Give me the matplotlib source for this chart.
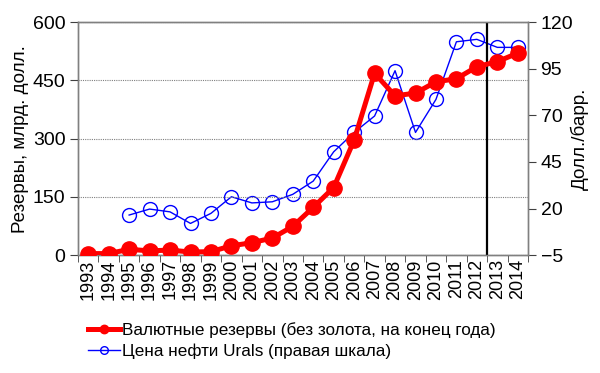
import matplotlib
matplotlib.use("Agg")
import matplotlib.pyplot as plt
import numpy as np

plt.rcParams['font.family'] = ['Liberation Sans', 'DejaVu Sans']

years = [str(y) for y in range(1993, 2015)]
reserves = [4, 4, 15, 11, 13, 8, 9, 24, 32, 44, 74, 123, 174, 296, 468, 410, 417, 446, 454, 485, 498, 520]
oil_years = [str(y) for y in range(1995, 2015)]
oil = [16.5, 19.7, 18.2, 12.0, 17.4, 26.3, 23.0, 23.6, 27.6, 34.7, 50.4, 60.8, 69.6, 93.9, 60.8, 78.5, 109.4, 110.7, 106.4, 106.4]

fig = plt.figure(figsize=(6.0, 3.73), dpi=100)
ax = fig.add_axes([0.13, 0.316, 0.75, 0.625])
ax2 = ax.twinx()

x = np.arange(len(years))
xo = np.array([years.index(y) for y in oil_years])

ax.set_zorder(ax2.get_zorder() + 1)
ax.patch.set_visible(False)

l1, = ax.plot(x, reserves, color='#ff0000', lw=3.6, marker='o', ms=11,
              label='Валютные резервы (без золота, на конец года)', zorder=3)
l2, = ax2.plot(xo, oil, color='#0000ff', lw=1.0, marker='o', ms=10, mfc='none',
               mec='#0000ff', mew=1.0, label='Цена нефти Urals (правая шкала)')

ax.set_xlim(-0.5, len(years) - 0.5)
ax.set_ylim(0, 600)
ax2.set_ylim(-5, 120)
ax.set_yticks([0, 150, 300, 450, 600])
ax2.set_yticks([-5, 20, 45, 70, 95, 120])
ax.set_xticks(x)
ax.set_xticklabels(years, rotation=90, fontsize=13)
ax.set_xticks(np.arange(-0.5, len(years)), minor=True)
ax.tick_params(axis='x', which='major', length=0, pad=3)
ax.tick_params(axis='x', which='minor', length=5, color='#404040')
ax.tick_params(axis='y', labelsize=14, length=6, color='#404040', pad=3)
ax2.tick_params(axis='y', labelsize=14, length=6, color='#404040', pad=3)

for a in (ax, ax2):
    for s in a.spines.values():
        s.set_color('#808080')
        s.set_linewidth(1.0)

ax.grid(axis='y', color='#808080', ls=(0, (1, 1)), lw=0.8)
ax.set_axisbelow(True)

ax.axvline(19.5, color='black', lw=1.6, zorder=2)

ax.set_ylabel('Резервы, млрд. долл.', fontsize=13.5, labelpad=3)
ax2.set_ylabel('Долл./барр.', fontsize=13.5, labelpad=-2)

fig.legend(handles=[l1, l2], loc='upper left', bbox_to_anchor=(0.135, 0.155),
           frameon=False, fontsize=12.3, handlelength=1.9, handletextpad=0.1,
           labelspacing=0.35, borderaxespad=0, markerscale=0.55)

fig.savefig('out.png', dpi=100)
